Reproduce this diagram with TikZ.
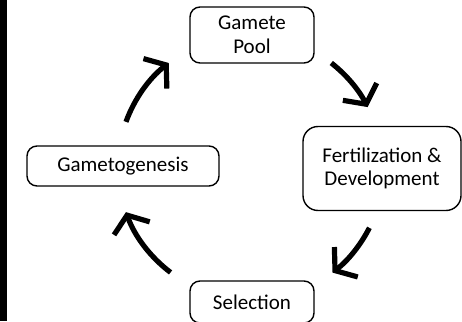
\documentclass[tikz,border=0pt]{standalone}
\usepackage{fontspec}
\setmainfont{Carlito}
\usetikzlibrary{arrows.meta,calc}
\begin{document}
\begin{tikzpicture}[x=1pt,y=1pt,
  stagebox/.style={draw=black, line width=1.4pt, rounded corners=10pt, align=center,
    inner sep=0pt, font=\fontsize{21}{23.5}\selectfont, text=black},
  cyc/.style={line width=5.2pt, -{Straight Barb[length=14pt,width=38pt]}}]
\useasboundingbox (0,0) rectangle (462,321);
\fill[black] (0,0) rectangle (7,321);
\coordinate (c) at (250,154);
\node[stagebox, minimum width=124pt, minimum height=56pt] (pool) at (252,286) {Gamete\\Pool};
\node[stagebox, minimum width=192pt, minimum height=40pt] (geno) at (123,155) {Gametogenesis};
\node[stagebox, rounded corners=15pt, minimum width=158pt, minimum height=84pt] (fert) at (382,152.5) {Fertilization \&\\Development};
\node[stagebox, minimum width=124pt, minimum height=42pt] (sel) at (252,19) {Selection};
\draw[cyc] ($(c)+(160:132)$) arc[start angle=160, end angle=128, radius=132];
\draw[cyc] ($(c)+(52:132)$) arc[start angle=52, end angle=27, radius=132];
\draw[cyc] ($(c)+(-27:134)$) arc[start angle=-27, end angle=-52, radius=134];
\draw[cyc] ($(c)+(-127:132)$) arc[start angle=-127, end angle=-160, radius=132];
\end{tikzpicture}
\end{document}
